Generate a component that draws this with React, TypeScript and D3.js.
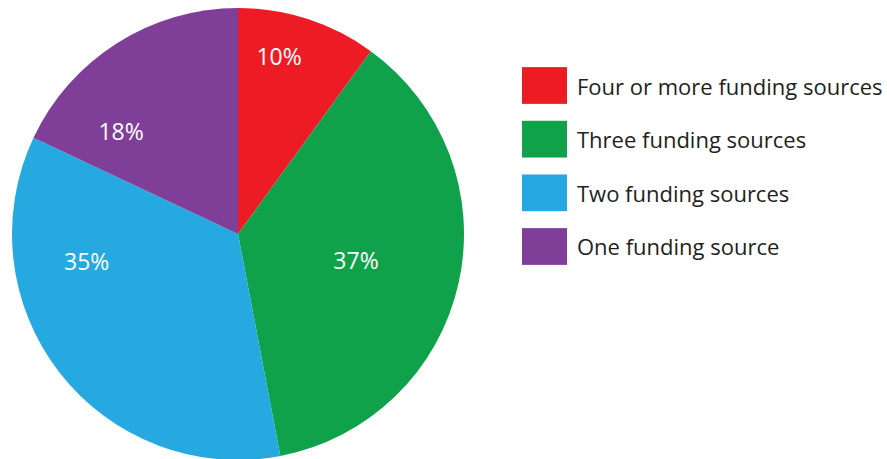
import React from "react";
import * as d3 from "d3";

const categories = [
  "Four or more funding sources",
  "Three funding sources",
  "Two funding sources",
  "One funding source",
];
const values = [10, 37, 35, 18];
const colors = ["#ed1c24", "#10a14b", "#25a9e0", "#7f3f98"];
// label placement within each slice: t = fraction of slice angle, r = fraction of radius
const labelPlacement = [
  { t: 0.36, r: 0.81 },
  { t: 0.5, r: 0.535 },
  { t: 0.72, r: 0.68 },
  { t: 0.25, r: 0.69 },
];

const W = 887;
const H = 459;
const cx = 238;
const cy = 234;
const R = 226;
const FONT = "'Open Sans', 'Noto Sans', sans-serif";

export default function App() {
  const pie = d3.pie<number>().sort(null).value((d) => d);
  const arcs = pie(values);
  const arc = d3.arc<d3.PieArcDatum<number>>().innerRadius(0).outerRadius(R);
  const total = d3.sum(values);

  const legendY = d3
    .scaleBand<string>()
    .domain(categories)
    .range([58, 274])
    .paddingInner(0.315)
    .paddingOuter(0.17);

  return (
    <svg
      width={W}
      height={H}
      style={{ position: "absolute", left: 0, top: 0, background: "#fff" }}
    >
      <g transform={`translate(${cx},${cy})`}>
        {arcs.map((a, i) => (
          <path key={i} d={arc(a) || ""} fill={colors[i]} />
        ))}
        {arcs.map((a, i) => {
          const p = labelPlacement[i];
          const ang = a.startAngle + (a.endAngle - a.startAngle) * p.t;
          const r = R * p.r;
          const x = Math.sin(ang) * r;
          const y = -Math.cos(ang) * r;
          return (
            <text
              key={i}
              x={x}
              y={y}
              textAnchor="middle"
              dominantBaseline="central"
              fill="#fff"
              fontFamily={FONT}
              fontSize={23}
            >
              {Math.round((values[i] / total) * 100)}%
            </text>
          );
        })}
      </g>
      <g>
        {categories.map((c, i) => {
          const y = legendY(c) || 0;
          const h = legendY.bandwidth();
          return (
            <g key={c}>
              <rect x={522} y={y} width={45} height={h} fill={colors[i]} />
              <text
                x={577}
                y={y + h / 2}
                dominantBaseline="central"
                fill="#231f20"
                fontFamily={FONT}
                fontSize={22}
              >
                {c}
              </text>
            </g>
          );
        })}
      </g>
    </svg>
  );
}
